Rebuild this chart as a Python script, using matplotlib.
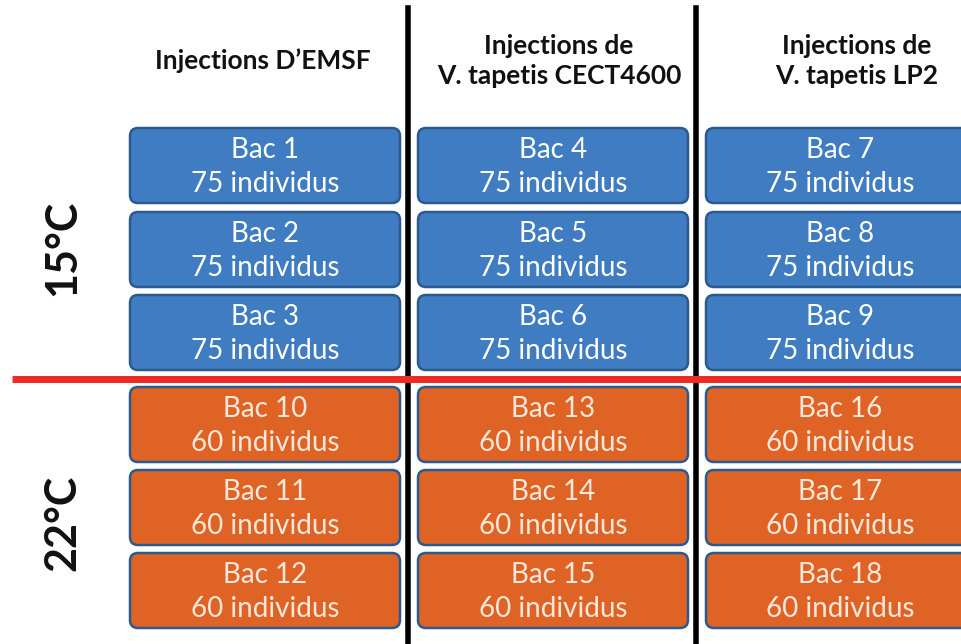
import numpy as np
import matplotlib.pyplot as plt
from matplotlib.patches import FancyBboxPatch

plt.rcParams['font.family'] = ['Lato', 'DejaVu Sans']

# Layout data
headers = ["Injections D\u2019EMSF", "Injections de\nV. tapetis CECT4600", "Injections de\nV. tapetis LP2"]
temperatures = ["15\u00b0C", "22\u00b0C"]
individus = [75, 60]
bacs = [[1, 2, 3, 4, 5, 6, 7, 8, 9],
        [10, 11, 12, 13, 14, 15, 16, 17, 18]]

fig = plt.figure(figsize=(9.62, 6.44), dpi=100)
ax = fig.add_axes([0, 0, 1, 1])
ax.set_xlim(0, 962)
ax.set_ylim(644, 0)
ax.axis('off')

col_x = [130, 418, 706]
box_w = [270, 270, 290]
box_h = 75
row_y = [[128, 212, 295], [387, 470, 553]]
fills = ['#3F7CC1', '#E06326']
txt_col = ['white', '#FCE9DC']
text_cx = [265, 553, 840]

for t, temp in enumerate(temperatures):
    for c in range(3):
        for r in range(3):
            x0, y0 = col_x[c], row_y[t][r]
            box = FancyBboxPatch((x0 + 8, y0 + 8), box_w[c] - 16, box_h - 16,
                                 boxstyle="round,pad=8", fc=fills[t],
                                 ec='#2D5A8E', lw=1.8, zorder=2)
            ax.add_patch(box)
            n = bacs[t][c * 3 + r]
            ax.text(text_cx[c], y0 + 22, f"Bac {n}", color=txt_col[t],
                    fontsize=20, ha='center', va='center', zorder=3)
            ax.text(text_cx[c], y0 + 56, f"{individus[t]} individus",
                    color=txt_col[t], fontsize=20, ha='center', va='center', zorder=3)

# headers
head_x = [263, 559, 857]
for c, h in enumerate(headers):
    ax.text(head_x[c], 61, h, fontsize=19, fontweight='bold', ha='center',
            va='center', linespacing=1.3, color='#111111')

# temperature labels
for t, temp in enumerate(temperatures):
    ax.text(62, [248, 523][t], temp, fontsize=31, fontweight='bold', rotation=90,
            ha='center', va='center', color='#111111')

# separators
ax.plot([408, 408], [8, 644], color='black', lw=4, zorder=4)
ax.plot([696, 696], [8, 644], color='black', lw=4, zorder=4)
ax.plot([12, 962], [379, 379], color='#EE2A24', lw=5, zorder=5, solid_capstyle='butt')

fig.savefig('out.png', dpi=100, facecolor='white')
